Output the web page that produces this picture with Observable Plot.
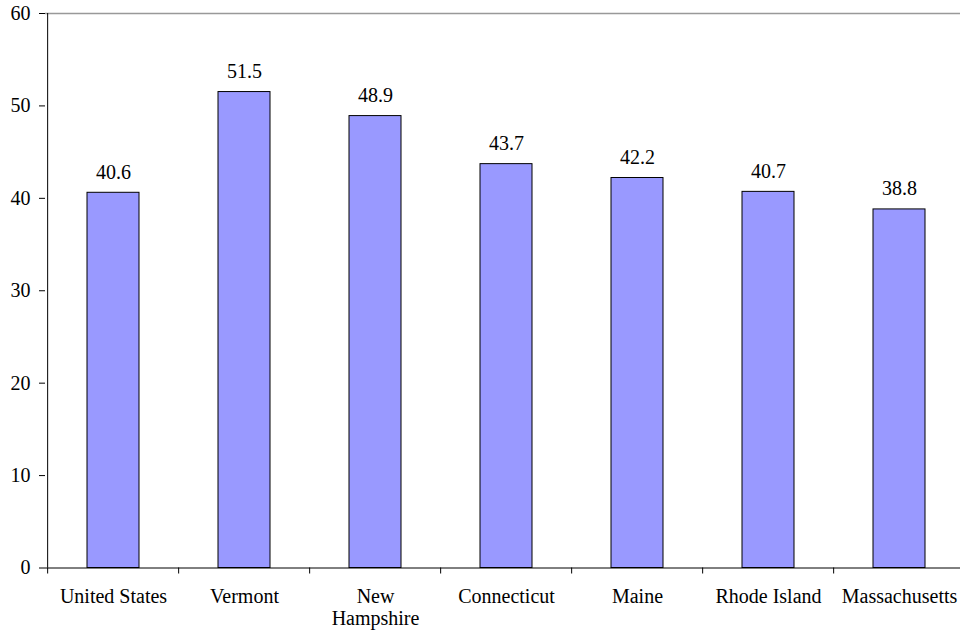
<!DOCTYPE html>
<html>
<head>
<meta charset="utf-8">
<script src="https://cdn.jsdelivr.net/npm/d3@7"></script>
<script src="https://cdn.jsdelivr.net/npm/@observablehq/plot@0.6"></script>
<style>
  html, body { margin: 0; padding: 0; background: #fff; }
</style>
</head>
<body>
<div id="chart"></div>
<script>
const categories = ["United States", "Vermont", "New Hampshire", "Connecticut", "Maine", "Rhode Island", "Massachusetts"];
const tickLabels = ["United States", "Vermont", "New\nHampshire", "Connecticut", "Maine", "Rhode Island", "Massachusetts"];
const values = [40.6, 51.5, 48.9, 43.7, 42.2, 40.7, 38.8];
const valueLabels = ["40.6", "51.5", "48.9", "43.7", "42.2", "40.7", "38.8"];
const yTicks = [0, 10, 20, 30, 40, 50, 60];

const data = categories.map((c, i) => ({category: c, value: values[i], label: valueLabels[i]}));
const xRange = [45, 967];
const step = (xRange[1] - xRange[0]) / categories.length;
const labelOf = new Map(categories.map((c, i) => [c, tickLabels[i]]));
const serif = "'Times New Roman', 'Liberation Serif', serif";

const chart = Plot.plot({
  width: 960,
  height: 638,
  marginLeft: 45,
  marginRight: 0,
  marginTop: 13,
  marginBottom: 70,
  style: {fontFamily: serif, fontSize: "20px", color: "#000", background: "#fff"},
  x: {domain: categories, range: xRange, paddingInner: 0.6, paddingOuter: 0.3, align: 0.5},
  y: {domain: [0, 60], range: [567.5, 13]},
  marks: [
    Plot.ruleY([60], {stroke: "#999", strokeWidth: 1.5}),
    Plot.barY(data, {x: "category", y: "value", fill: "#9999ff", stroke: "#000", strokeWidth: 1}),
    Plot.text(data, {x: "category", y: "value", text: "label", lineAnchor: "bottom", dy: -14, fill: "#000", fontFamily: serif, fontSize: 20}),
    Plot.ruleX([categories[0]], {x: d => d, dx: -step / 2, y1: 0, y2: 60, stroke: "#000", strokeWidth: 1}),
    Plot.ruleY([0], {stroke: "#000", strokeWidth: 1}),
    Plot.ruleX(categories, {x: d => d, dx: -step / 2, y1: 0, y2: 0, insetBottom: -6, stroke: "#000", strokeWidth: 1}),
    Plot.axisY({ticks: yTicks, tickSize: 6, tickPadding: 9, tickFormat: d => String(d), label: null, stroke: "#000", fill: "#000", fontFamily: serif, fontSize: 20}),
    Plot.axisX({tickSize: 0, tickPadding: 19, tickFormat: d => labelOf.get(d), lineHeight: 1.1, label: null, fill: "#000", fontFamily: serif, fontSize: 20})
  ]
});
document.getElementById("chart").appendChild(chart);
</script>
</body>
</html>
